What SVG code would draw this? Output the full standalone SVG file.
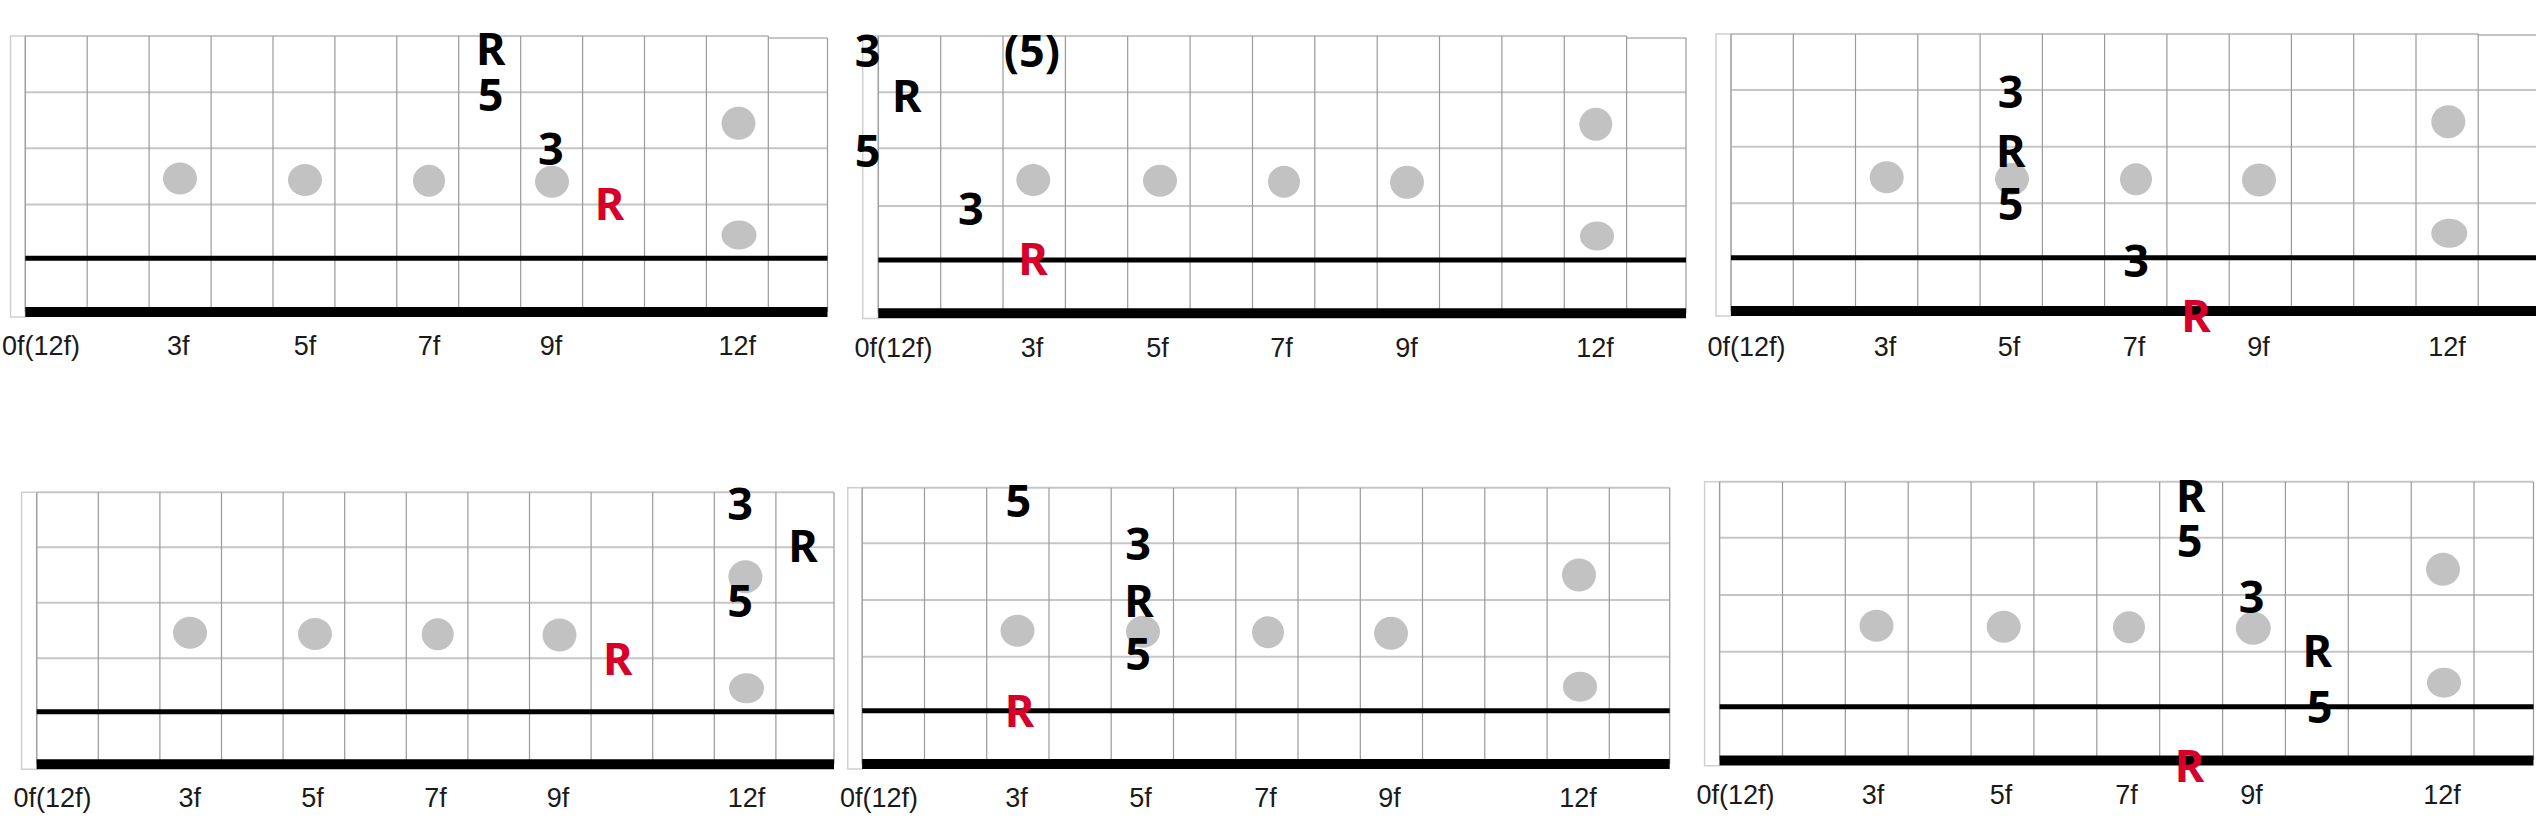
<svg xmlns="http://www.w3.org/2000/svg" width="2536" height="838" viewBox="0 0 2536 838">
<style>
.bg{fill:#fff}
.fret{stroke:#9a9a9a;stroke-width:1.2;fill:none}
.str{stroke:#c6c6c6;stroke-width:2;fill:none}
.s5{stroke:#000;stroke-width:5}
.s6{stroke:#000;stroke-width:10}
.box{fill:none;stroke:#cfcfcf;stroke-width:1.5}
.dot{fill:#c2c2c2}
.lbl{font-family:"Liberation Sans",Arial,sans-serif;font-size:27px;fill:#1a1a1a;text-anchor:middle}
.t{font-family:"Noto Sans","Open Sans",sans-serif;font-weight:700;font-size:45px;text-anchor:middle;fill:#000}
.r{fill:#d7002b}
</style>
<rect class="bg" x="0" y="0" width="2536" height="838"/>

<g id="panel1">
<rect class="box" x="10.5" y="36" width="14.8" height="281"/>
<path class="str" d="M25.3 36H768.3M768.3 38H827.5M25.3 92.3H827.5M25.3 148.3H827.5M25.3 204.5H827.5"/>
<path class="fret" d="M25.3 36V312M87.2 36V312M149.1 36V312M211.1 36V312M273 36V312M334.9 36V312M396.8 36V312M458.7 36V312M520.7 36V312M582.6 36V312M644.5 36V312M706.4 36V312M768.3 36V312M827.5 38V312"/>
<line class="s5" x1="25.3" y1="258.3" x2="827.5" y2="258.3"/>
<line class="s6" x1="25.3" y1="312" x2="827.5" y2="312"/>
<g id="p1-dots">
<ellipse class="dot" cx="180" cy="178.5" rx="17" ry="16"/>
<ellipse class="dot" cx="305" cy="180" rx="17" ry="16"/>
<ellipse class="dot" cx="429" cy="180.7" rx="16" ry="16"/>
<ellipse class="dot" cx="552" cy="181.7" rx="17" ry="16"/>
<ellipse class="dot" cx="738.5" cy="123.3" rx="17" ry="16.5"/>
<ellipse class="dot" cx="739" cy="235" rx="17.5" ry="14.5"/>
</g>
<g id="p1-tones">
<text class="t" x="490.8" y="64.5">R</text>
<text class="t" x="490.5" y="110.5">5</text>
<text class="t" x="550.8" y="164.5">3</text>
<text class="t r" x="609.5" y="220">R</text>
</g>
<g id="p1-labels">
<text class="lbl" x="41" y="355">0f(12f)</text>
<text class="lbl" x="178.3" y="355">3f</text>
<text class="lbl" x="305" y="355">5f</text>
<text class="lbl" x="429" y="355">7f</text>
<text class="lbl" x="551" y="355">9f</text>
<text class="lbl" x="737.3" y="355">12f</text>
</g>
</g>

<g id="panel2">
<rect class="box" x="862.7" y="36" width="15.6" height="282.5"/>
<path class="str" d="M878.3 36H1626.6M1626.6 38H1686M878.3 92.3H1686M878.3 148.3H1686M878.3 206H1686"/>
<path class="fret" d="M878.3 36V313M940.7 36V313M1003 36V313M1065.4 36V313M1127.7 36V313M1190.1 36V313M1252.5 36V313M1314.8 36V313M1377.2 36V313M1439.5 36V313M1501.9 36V313M1564.3 36V313M1626.6 36V313M1686 38V313"/>
<line class="s5" x1="878.3" y1="260" x2="1686" y2="260"/>
<line class="s6" x1="878.3" y1="313.3" x2="1686" y2="313.3"/>
<g id="p2-dots">
<ellipse class="dot" cx="1033.3" cy="180" rx="17" ry="16"/>
<ellipse class="dot" cx="1160" cy="180.7" rx="17" ry="16"/>
<ellipse class="dot" cx="1284" cy="181.7" rx="16" ry="16"/>
<ellipse class="dot" cx="1407" cy="182.3" rx="17" ry="16.5"/>
<ellipse class="dot" cx="1595.8" cy="124.3" rx="16.5" ry="16.5"/>
<ellipse class="dot" cx="1597" cy="236" rx="17" ry="14.5"/>
</g>
<g id="p2-tones">
<text class="t" x="867.5" y="66.7">3</text>
<text class="t" x="1032" y="66.7">(5)</text>
<text class="t" x="906.8" y="111.7">R</text>
<text class="t" x="867.5" y="166.7">5</text>
<text class="t" x="970.8" y="225">3</text>
<text class="t r" x="1033" y="275">R</text>
</g>
<g id="p2-labels">
<text class="lbl" x="893.5" y="356.5">0f(12f)</text>
<text class="lbl" x="1032" y="356.5">3f</text>
<text class="lbl" x="1157.6" y="356.5">5f</text>
<text class="lbl" x="1281.6" y="356.5">7f</text>
<text class="lbl" x="1406.6" y="356.5">9f</text>
<text class="lbl" x="1595" y="356.5">12f</text>
</g>
</g>

<g id="panel3">
<rect class="box" x="1716" y="34" width="15" height="282"/>
<path class="str" d="M1731 34H2478.2M2478.2 35H2536M1731 90H2536M1731 146.7H2536M1731 203.3H2536"/>
<path class="fret" d="M1731 34V311M1793.3 34V311M1855.5 34V311M1917.8 34V311M1980.1 34V311M2042.4 34V311M2104.6 34V311M2166.9 34V311M2229.2 34V311M2291.4 34V311M2353.7 34V311M2416 34V311M2478.2 34V311"/>
<line class="s5" x1="1731" y1="257.7" x2="2536" y2="257.7"/>
<line class="s6" x1="1731" y1="311" x2="2536" y2="311"/>
<g id="p3-dots">
<ellipse class="dot" cx="1886.7" cy="177.3" rx="17" ry="16"/>
<ellipse class="dot" cx="2012" cy="179" rx="17" ry="16"/>
<ellipse class="dot" cx="2136" cy="179.3" rx="16" ry="16"/>
<ellipse class="dot" cx="2259" cy="180" rx="17" ry="16.5"/>
<ellipse class="dot" cx="2448.3" cy="121.7" rx="17" ry="16.5"/>
<ellipse class="dot" cx="2449.3" cy="233.3" rx="18" ry="14.5"/>
</g>
<g id="p3-tones">
<text class="t" x="2010.7" y="108">3</text>
<text class="t" x="2010.7" y="166.7">R</text>
<text class="t" x="2010.7" y="220">5</text>
<text class="t" x="2136" y="276.7">3</text>
<text class="t r" x="2196" y="331.7">R</text>
</g>
<g id="p3-labels">
<text class="lbl" x="1746.5" y="355.5">0f(12f)</text>
<text class="lbl" x="1885" y="355.5">3f</text>
<text class="lbl" x="2009" y="355.5">5f</text>
<text class="lbl" x="2134" y="355.5">7f</text>
<text class="lbl" x="2258.6" y="355.5">9f</text>
<text class="lbl" x="2447" y="355.5">12f</text>
</g>
</g>

<g id="panel4">
<rect class="box" x="21.6" y="492.3" width="15.1" height="277"/>
<path class="str" d="M36.7 492.3H834M36.7 547.3H834M36.7 602.7H834M36.7 658.3H834"/>
<path class="fret" d="M36.7 492.3V764M98.3 492.3V764M159.9 492.3V764M221.5 492.3V764M283.1 492.3V764M344.7 492.3V764M406.3 492.3V764M467.9 492.3V764M529.5 492.3V764M591.1 492.3V764M652.7 492.3V764M714.3 492.3V764M775.9 492.3V764M834 492.3V764"/>
<line class="s5" x1="36.7" y1="711.7" x2="834" y2="711.7"/>
<line class="s6" x1="36.7" y1="764.3" x2="834" y2="764.3"/>
<g id="p4-dots">
<ellipse class="dot" cx="190" cy="632.7" rx="17" ry="16"/>
<ellipse class="dot" cx="315" cy="634" rx="17" ry="16"/>
<ellipse class="dot" cx="437.7" cy="634.3" rx="16" ry="16"/>
<ellipse class="dot" cx="559.5" cy="635" rx="17" ry="16.5"/>
<ellipse class="dot" cx="745.4" cy="576.7" rx="17" ry="16.5"/>
<ellipse class="dot" cx="746.5" cy="688.3" rx="17.5" ry="15"/>
</g>
<g id="p4-tones">
<text class="t" x="740" y="520">3</text>
<text class="t" x="803" y="561.7">R</text>
<text class="t" x="740" y="616.7">5</text>
<text class="t r" x="617.7" y="675">R</text>
</g>
<g id="p4-labels">
<text class="lbl" x="52.5" y="807">0f(12f)</text>
<text class="lbl" x="189.7" y="807">3f</text>
<text class="lbl" x="312.6" y="807">5f</text>
<text class="lbl" x="435.5" y="807">7f</text>
<text class="lbl" x="558" y="807">9f</text>
<text class="lbl" x="746.5" y="807">12f</text>
</g>
</g>

<g id="panel5">
<rect class="box" x="847.7" y="487.7" width="14.5" height="281.3"/>
<path class="str" d="M862.2 487.7H1669.7M862.2 543.3H1669.7M862.2 600H1669.7M862.2 656.7H1669.7"/>
<path class="fret" d="M862.2 487.7V764M924.5 487.7V764M986.7 487.7V764M1049 487.7V764M1111.2 487.7V764M1173.5 487.7V764M1235.8 487.7V764M1298 487.7V764M1360.3 487.7V764M1422.5 487.7V764M1484.8 487.7V764M1547.1 487.7V764M1609.3 487.7V764M1669.7 487.7V764"/>
<line class="s5" x1="862.2" y1="710.7" x2="1669.7" y2="710.7"/>
<line class="s6" x1="862.2" y1="764" x2="1669.7" y2="764"/>
<g id="p5-dots">
<ellipse class="dot" cx="1017.5" cy="630.7" rx="17" ry="16"/>
<ellipse class="dot" cx="1143" cy="631.7" rx="17" ry="16"/>
<ellipse class="dot" cx="1268" cy="632.3" rx="16" ry="16"/>
<ellipse class="dot" cx="1391" cy="633.3" rx="17" ry="16.5"/>
<ellipse class="dot" cx="1579" cy="575" rx="17" ry="16.5"/>
<ellipse class="dot" cx="1580" cy="686.7" rx="17" ry="15"/>
</g>
<g id="p5-tones">
<text class="t" x="1018.3" y="516.7">5</text>
<text class="t" x="1138" y="560">3</text>
<text class="t" x="1139" y="616.7">R</text>
<text class="t" x="1138" y="670">5</text>
<text class="t r" x="1019.6" y="726.7">R</text>
</g>
<g id="p5-labels">
<text class="lbl" x="879" y="807">0f(12f)</text>
<text class="lbl" x="1016.4" y="807">3f</text>
<text class="lbl" x="1140.4" y="807">5f</text>
<text class="lbl" x="1265.4" y="807">7f</text>
<text class="lbl" x="1389.4" y="807">9f</text>
<text class="lbl" x="1578" y="807">12f</text>
</g>
</g>

<g id="panel6">
<rect class="box" x="1704.6" y="481.7" width="15" height="284"/>
<path class="str" d="M1719.6 481.7H2533.5M1719.6 537.7H2533.5M1719.6 595H2533.5M1719.6 651.7H2533.5"/>
<path class="fret" d="M1719.6 481.7V760M1782.5 481.7V760M1845.3 481.7V760M1908.2 481.7V760M1971.1 481.7V760M2033.9 481.7V760M2096.8 481.7V760M2159.7 481.7V760M2222.6 481.7V760M2285.4 481.7V760M2348.3 481.7V760M2411.2 481.7V760M2474 481.7V760M2533.5 481.7V760"/>
<line class="s5" x1="1719.6" y1="706.7" x2="2533.5" y2="706.7"/>
<line class="s6" x1="1719.6" y1="760.5" x2="2533.5" y2="760.5"/>
<g id="p6-dots">
<ellipse class="dot" cx="1876.5" cy="625.7" rx="17" ry="16"/>
<ellipse class="dot" cx="2003.7" cy="626.7" rx="17" ry="16"/>
<ellipse class="dot" cx="2129" cy="627.3" rx="16" ry="16"/>
<ellipse class="dot" cx="2253.3" cy="628.3" rx="17.5" ry="16.5"/>
<ellipse class="dot" cx="2443" cy="569.3" rx="17" ry="16.5"/>
<ellipse class="dot" cx="2444" cy="682.7" rx="17" ry="15"/>
</g>
<g id="p6-tones">
<text class="t" x="2190.8" y="511.7">R</text>
<text class="t" x="2189.5" y="556.7">5</text>
<text class="t" x="2251.7" y="613.3">3</text>
<text class="t" x="2317.2" y="666.7">R</text>
<text class="t" x="2319.7" y="723.3">5</text>
<text class="t r" x="2189.5" y="781.7">R</text>
</g>
<g id="p6-labels">
<text class="lbl" x="1735.5" y="803.5">0f(12f)</text>
<text class="lbl" x="1873" y="803.5">3f</text>
<text class="lbl" x="2001" y="803.5">5f</text>
<text class="lbl" x="2126.6" y="803.5">7f</text>
<text class="lbl" x="2251.6" y="803.5">9f</text>
<text class="lbl" x="2442" y="803.5">12f</text>
</g>
</g>
</svg>
